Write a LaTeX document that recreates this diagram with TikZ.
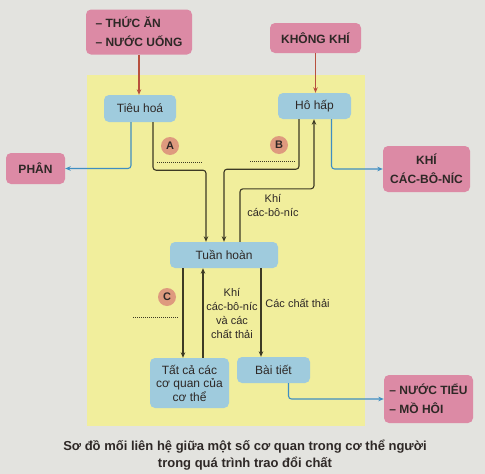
\documentclass[tikz,border=0pt]{standalone}
\usepackage{fontspec}
\setmainfont{Liberation Sans}
\usetikzlibrary{arrows.meta,calc}
\definecolor{bgcol}{HTML}{E3E3DF}
\definecolor{yelcol}{HTML}{F1EE9C}
\definecolor{pinkcol}{HTML}{DC8AA5}
\definecolor{bluecol}{HTML}{9FCBDD}
\definecolor{txtcol}{HTML}{2E2826}
\definecolor{redarr}{HTML}{B8503E}
\definecolor{bluearr}{HTML}{3F8EC2}
\definecolor{darkarr}{HTML}{3D3A24}
\definecolor{circcol}{HTML}{DE9A7E}
\tikzset{
  pinkbox/.style={fill=pinkcol, rounded corners=5pt, text=txtcol, font=\bfseries\fontsize{12}{19}\selectfont, inner sep=2pt},
  bluebox/.style={fill=bluecol, rounded corners=5pt, text=txtcol, font=\fontsize{12}{13.5}\selectfont, inner sep=2pt, align=center},
  tipstyle/.style={-{Stealth[length=5.5pt,width=4.5pt]}},
  redline/.style={draw=redarr, line width=1.1pt, tipstyle},
  blueline/.style={draw=bluearr, line width=1.1pt, tipstyle, rounded corners=3pt},
  darkline/.style={draw=darkarr, line width=1.1pt, tipstyle, rounded corners=3pt},
  lettercirc/.style={circle, fill=circcol, minimum size=18pt, inner sep=0pt, text=txtcol, font=\bfseries\fontsize{11}{12}\selectfont},
  dotline/.style={draw=darkarr, line width=1pt, dash pattern=on 1pt off 1pt},
  lbl/.style={text=txtcol, font=\fontsize{11}{14}\selectfont, align=center, inner sep=0pt},
  captext/.style={text=txtcol, font=\bfseries\fontsize{13}{16.5}\selectfont, align=center, inner sep=0pt}
}
\begin{document}
\begin{tikzpicture}[x=1pt,y=-1pt]
\fill[bgcol] (0,0) rectangle (485,474);
\useasboundingbox (0,0) rectangle (485,474);
\fill[yelcol] (87,75) rectangle (365,426);

% pink boxes
\node[pinkbox, minimum width=106pt, minimum height=45pt, align=left] (thucan) at (139,32) {– THỨC ĂN\\– NƯỚC UỐNG};
\node[pinkbox, minimum width=91pt, minimum height=30pt] (khongkhi) at (315.5,38) {KHÔNG KHÍ};
\node[pinkbox, minimum width=59pt, minimum height=31pt] (phan) at (35.5,168.5) {PHÂN};
\node[pinkbox, minimum width=87pt, minimum height=46pt, align=center] (khi) at (426.5,169) {KHÍ\\CÁC-BÔ-NÍC};
\node[pinkbox, minimum width=89pt, minimum height=48pt, align=left] (nuoc) at (428.5,399) {– NƯỚC TIỂU\\– MỒ HÔI};

% blue boxes
\node[bluebox, minimum width=72pt, minimum height=27pt] (tieuhoa) at (140,108.5) {Tiêu hoá};
\node[bluebox, minimum width=73pt, minimum height=26pt] (hohap) at (314.5,106) {Hô hấp};
\node[bluebox, minimum width=108pt, minimum height=26pt] (tuanhoan) at (224,255) {Tuần hoàn};
\node[bluebox, minimum width=79pt, minimum height=50pt] (tatca) at (189.5,383) {Tất cả các\\cơ quan của\\cơ thể};
\node[bluebox, minimum width=73pt, minimum height=26pt] (baitiet) at (273.5,370) {Bài tiết};

% red arrows
\draw[redline] (thucan.south) -- (thucan.south |- tieuhoa.north);
\draw[redline] (khongkhi.south) -- (khongkhi.south |- hohap.north);

% blue arrows
\draw[blueline] ([xshift=-9pt]tieuhoa.south) |- (phan.east);
\draw[blueline] ([xshift=17pt]hohap.south) |- (khi.west);
\draw[blueline] ([xshift=15pt]baitiet.south) |- (nuoc.west);

% dark arrows
\draw[darkline] ([xshift=13pt]tieuhoa.south) -- ++(0,48) -| ([xshift=-18pt]tuanhoan.north);
\draw[darkline] ([xshift=-15.5pt]hohap.south) -- ++(0,50) -| (tuanhoan.north);
\draw[darkline] ([xshift=16pt]tuanhoan.north) -- ++(0,-53) -| ([xshift=-0.5pt]hohap.south);
\draw[darkline] ([xshift=-6.5pt]tatca.north |- tuanhoan.south) -- ([xshift=-6.5pt]tatca.north);
\draw[darkline] ([xshift=13.5pt]tatca.north) -- ([xshift=13.5pt]tatca.north |- tuanhoan.south);
\draw[darkline] ([xshift=-12.5pt]baitiet.north |- tuanhoan.south) -- ([xshift=-12.5pt]baitiet.north);

% letter circles and dotted blanks
\node[lettercirc] (ca) at (170,146) {A};
\node[lettercirc] (cb) at (279,145) {B};
\node[lettercirc] (cc) at (167,297) {C};
\draw[dotline] (157,162) -- (202,162);
\draw[dotline] (250,161) -- (295,161);
\draw[dotline] (133,317) -- (178,317);

% labels
\node[lbl] (l1) at (273,206) {Khí\\các-bô-níc};
\node[lbl] (l2) at (232,313) {Khí\\các-bô-níc\\và các\\chất thải};
\node[lbl] (l3) at (297.5,303) {Các chất thải};

% caption
\node[captext] (cap) at (245,455) {Sơ đồ mối liên hệ giữa một số cơ quan trong cơ thể người\\trong quá trình trao đổi chất};
\end{tikzpicture}
\end{document}
